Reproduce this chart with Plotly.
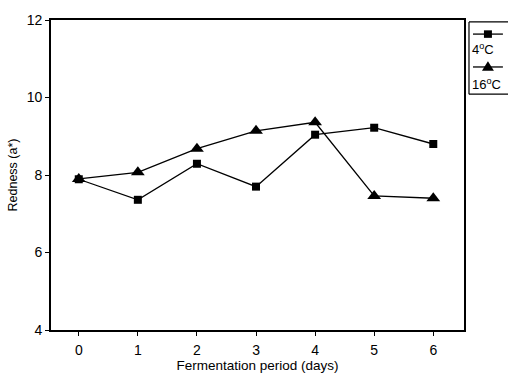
import plotly.graph_objects as go

# Redness (a*) during fermentation at two temperatures
days = [0, 1, 2, 3, 4, 5, 6]
redness_4c = [7.89, 7.36, 8.29, 7.70, 9.04, 9.22, 8.80]
redness_16c = [7.90, 8.07, 8.68, 9.14, 9.36, 7.46, 7.40]
series_names = ["4<sup>o</sup>C", "16<sup>o</sup>C"]
y_ticks = [4, 6, 8, 10, 12]

W, H = 508, 381
ML, MR, MT, MB = 50, 44, 12, 39
family = "Liberation Sans, Arial, sans-serif"
font = dict(family=family, size=13, color="black")
tick_font = dict(family=family, size=14, color="black")
legend_font = dict(family=family, size=13, color="black")

fig = go.Figure()
fig.add_trace(go.Scatter(
    x=days, y=redness_4c, mode="lines+markers", name="4°C",
    line=dict(color="black", width=1.3),
    marker=dict(symbol="square", size=8, color="black"),
    showlegend=False, cliponaxis=False))
fig.add_trace(go.Scatter(
    x=days, y=redness_16c, mode="lines+markers", name="16°C",
    line=dict(color="black", width=1.3),
    marker=dict(symbol="triangle-up", size=12, color="black"),
    showlegend=False, cliponaxis=False))

# Boxed legend (running off the right edge) with symbol above each label
pw, ph = W - ML - MR, H - MT - MB
def px(x):
    return (x - ML) / pw
def py(y):
    return 1 - (y - MT) / ph

box = dict(color="black", width=1.2)
shapes = [
    dict(type="line", xref="paper", yref="paper",
         x0=px(469), x1=px(469), y0=py(91), y1=py(14), line=box),
    dict(type="line", xref="paper", yref="paper",
         x0=px(469), x1=px(W + 20), y0=py(14), y1=py(14), line=box),
    dict(type="line", xref="paper", yref="paper",
         x0=px(469), x1=px(W + 20), y0=py(91), y1=py(91), line=box),
]
rows = [(27, 43, "square"), (62, 80, "triangle")]
for (ly, ty, sym), label in zip(rows, series_names):
    shapes.append(dict(type="line", xref="paper", yref="paper",
                       x0=px(473), x1=px(503), y0=py(ly), y1=py(ly),
                       line=dict(color="black", width=1.3)))
    if sym == "square":
        shapes.append(dict(type="rect", xref="paper", yref="paper",
                           x0=px(484), x1=px(492), y0=py(ly + 4), y1=py(ly - 4),
                           fillcolor="black", line=dict(width=0)))
    else:
        path = (f"M {px(482)} {py(ly + 4)} L {px(494)} {py(ly + 4)} "
                f"L {px(488)} {py(ly - 6)} Z")
        shapes.append(dict(type="path", xref="paper", yref="paper", path=path,
                           fillcolor="black", line=dict(width=0)))
    fig.add_annotation(x=px(470), y=py(ty), xref="paper", yref="paper",
                       text=label, showarrow=False, xanchor="left",
                       yanchor="middle", font=legend_font)

fig.update_layout(
    width=W, height=H,
    margin=dict(l=ML, r=MR, t=MT, b=MB),
    paper_bgcolor="white", plot_bgcolor="white",
    font=font, shapes=shapes,
    xaxis=dict(range=[-0.47, 6.52], tickvals=days, ticks="outside",
               ticklen=4, tickcolor="black", showgrid=False, zeroline=False,
               showline=True, linecolor="black", linewidth=1.6, mirror=True,
               ticklabelstandoff=2,
               title=dict(text="Fermentation period (days)", standoff=2,
                          font=dict(family=family, size=13.5, color="black")),
               tickfont=tick_font),
    yaxis=dict(range=[4, 12], tickvals=y_ticks, ticks="outside",
               ticklen=4, tickcolor="black", showgrid=False, zeroline=False,
               showline=True, linecolor="black", linewidth=1.6, mirror=True,
               title=dict(text="Redness (a*)", standoff=6,
                          font=dict(family=family, size=12.5, color="black")),
               tickfont=tick_font),
)

fig.write_html("out.html")
